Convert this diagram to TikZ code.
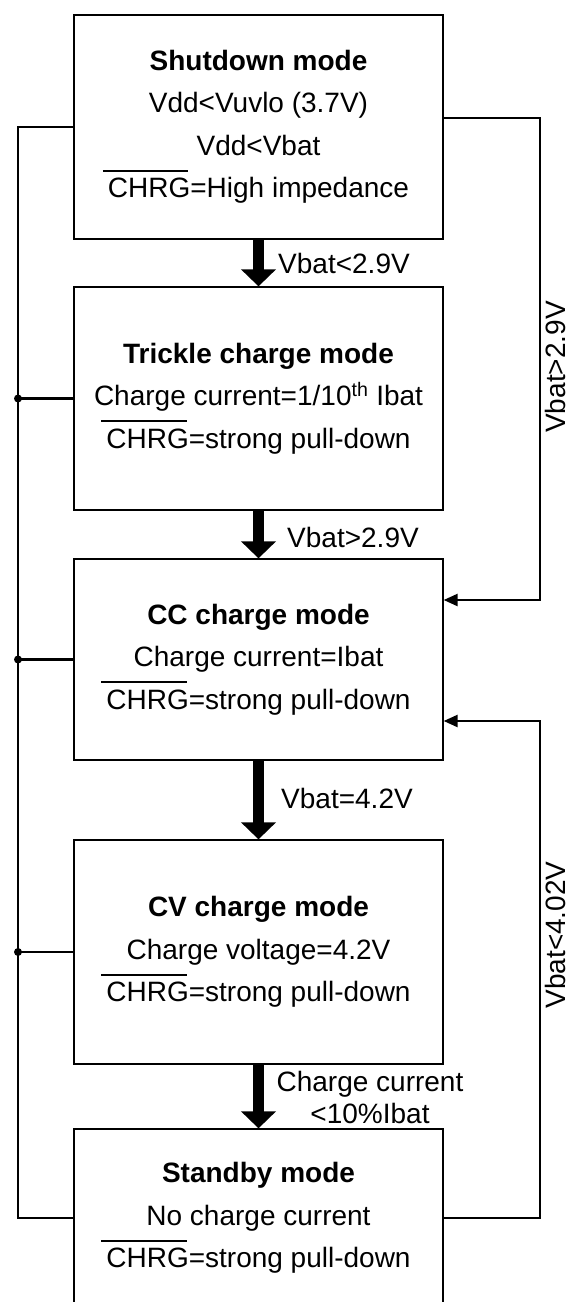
\documentclass[tikz,border=0pt]{standalone}
\usepackage{fontspec}
\setmainfont{Liberation Sans}
\usetikzlibrary{arrows.meta}
\newcommand\ovl[1]{\setbox0\hbox{#1}\rlap{\kern-5pt\smash{\raisebox{26pt}{\rule{\dimexpr\wd0+3pt\relax}{1.8pt}}}}\box0}
\begin{document}
\begin{tikzpicture}[x=1pt,y=-1pt,
 box/.style={draw,line width=1.3pt,minimum width=369pt,align=center,inner sep=0pt,font=\fontsize{28}{42.5}\selectfont},
 bus/.style={line width=2.4pt,line join=miter},
 flow/.style={line width=11pt,-{Triangle[length=17pt,width=34pt]}},
 rarrow/.style={bus,-{Triangle[length=14pt,width=12pt]}},
 lbl/.style={font=\fontsize{28}{32}\selectfont,inner sep=0pt},
 dot/.style={circle,fill,inner sep=0pt,minimum size=8pt}]
\useasboundingbox (0,0) rectangle (569,1302);
\node[box,minimum height=224pt] (sd) at (258.5,127) {\textbf{Shutdown mode}\\Vdd<Vuvlo (3.7V)\\Vdd<Vbat\\\ovl{CHRG}=High impedance};
\node[box,minimum height=223pt] (tr) at (258.5,398.5) {\textbf{Trickle charge mode}\\Charge current=1/10\textsuperscript{th} Ibat\\\ovl{CHRG}=strong pull-down};
\node[box,minimum height=201pt] (cc) at (258.5,659.5) {\textbf{CC charge mode}\\Charge current=Ibat\\\ovl{CHRG}=strong pull-down};
\node[box,minimum height=224pt] (cv) at (258.5,952) {\textbf{CV charge mode}\\Charge voltage=4.2V\\\ovl{CHRG}=strong pull-down};
\node[box,minimum height=178pt] (sb) at (258.5,1218) {\textbf{Standby mode}\\No charge current\\\ovl{CHRG}=strong pull-down};
% flow arrows
\draw[flow] (sd.south) -- (tr.north);
\draw[flow] (tr.south) -- (cc.north);
\draw[flow] (cc.south) -- (cv.north);
\draw[flow] (cv.south) -- (sb.north);
\node[lbl,anchor=west] (l1) at (278,263) {Vbat<2.9V};
\node[lbl,anchor=west] (l2) at (287,537) {Vbat>2.9V};
\node[lbl,anchor=west] (l3) at (281,798) {Vbat=4.2V};
\node[lbl,align=center] (l4) at (370,1097) {Charge current\\<10\%Ibat};
% left bus
\coordinate (lt) at (18,127);
\coordinate (lb) at (18,1218);
\draw[bus] (sd.west) -- (lt) -- (lb) -- (sb.west);
\foreach \n in {tr,cc,cv} {
  \draw[bus] (\n.west) -- (\n.west -| lt);
  \node[dot] (dot\n) at (\n.west -| lt) {};
}
% right returns
\coordinate (rt) at (540,118);
\coordinate (rm) at (540,600);
\draw[rarrow] ([yshift=9pt]sd.east) -- (rt) -- (rm) -- (cc.east |- rm);
\coordinate (rb) at (540,1218);
\coordinate (rm2) at (540,721);
\draw[rarrow] (sb.east) -- (rb) -- (rm2) -- (cc.east |- rm2);
\node[lbl,rotate=90] (r1) at (555,367) {Vbat>2.9V};
\node[lbl,rotate=90] (r2) at (555,935) {Vbat<4.02V};
\end{tikzpicture}
\end{document}
